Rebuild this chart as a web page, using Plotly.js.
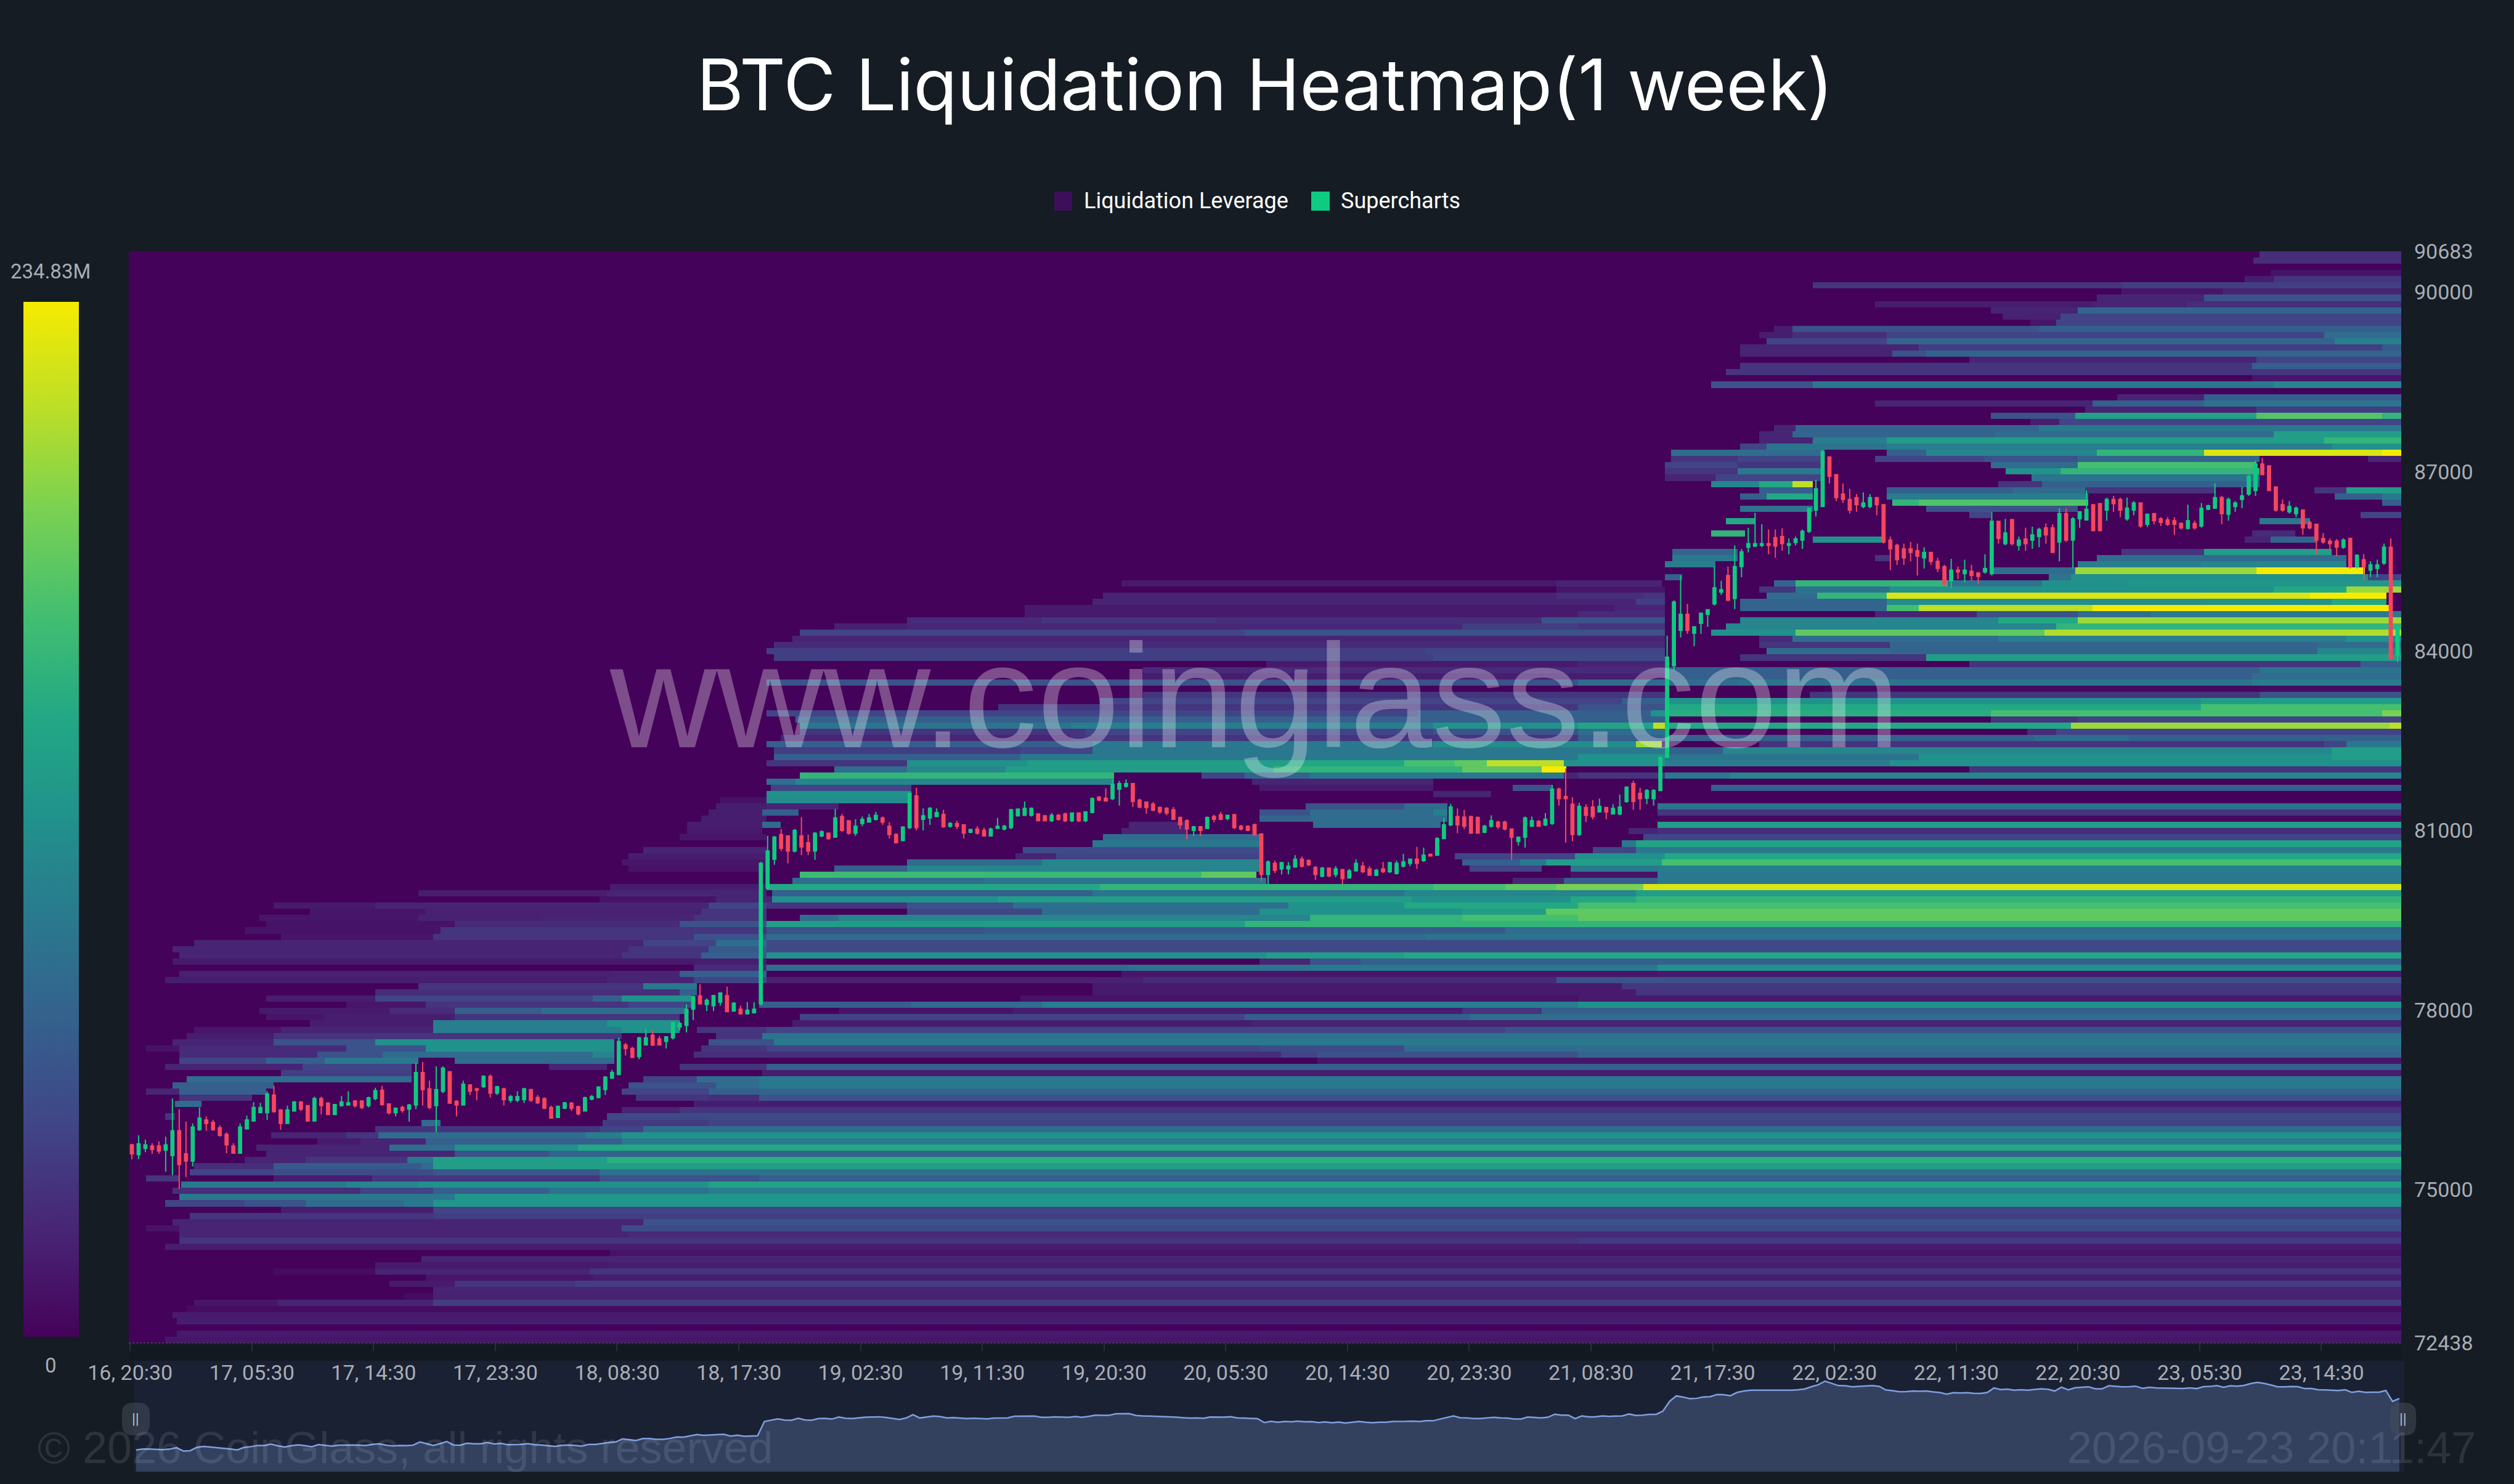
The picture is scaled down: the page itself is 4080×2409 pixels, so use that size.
<!DOCTYPE html>
<html><head><meta charset="utf-8">
<script src="https://cdn.plot.ly/plotly-3.0.1.min.js"></script>
<style>html,body{margin:0;padding:0;background:#151c23}#c{width:4080px;height:2409px}</style>
</head><body><div id="c"></div>
<script>
const priceTop = 90683, priceBottom = 72438, maxLiquidationM = 234.83;
const yTickValues = [90683,90000,87000,84000,81000,78000,75000,72438];
const xTickLabels = ["16, 20:30","17, 05:30","17, 14:30","17, 23:30","18, 08:30","18, 17:30","19, 02:30","19, 11:30","19, 20:30","20, 05:30","20, 14:30","20, 23:30","21, 08:30","21, 17:30","22, 02:30","22, 11:30","22, 20:30","23, 05:30","23, 14:30"];
const title = "BTC Liquidation Heatmap(1 week)";
const slotsPerHour = 1568/168;

// each price row, top to bottom: [time slot, strength 0-10, time slot, strength, ...]
const liquidationRows = [
[1470,1.3],[1466,1.3],[],[1478,.5],[1460,.8,1480,1.5],[1162,1.5,1375,1.8],[1375,.6,1445,1],[1358,1,1432,2.5],[1205,.8,1355,1,1420,1.3],[1285,1,1345,3.2],
[1293,.9,1333,2],[1312,.6,1330,2],[1135,.8,1148,2.5,1318,3],[1125,.8,1148,1.3,1213,2,1515,3.5],[1130,2,1213,3.2,1522,4.2],[1112,1,1235,1.8,1555,2.8],[1112,1,1217,2.5,1240,3.2],[1270,1,1468,2],[1112,1.5,1465,3],[1102,1.5,1465,1.5],
[1465,.6],[1092,2.5,1162,4,1480,4.5],[],[1372,1,1432,3],[1205,1,1355,3,1432,3.8],[1350,1,1468,1.8],[1285,2.5,1343,5.7,1468,7.3,1555,6.5],[1312,.8,1332,2],[1135,1,1150,3.2,1318,4],[1125,1,1148,3.2,1288,3.5,1480,5.5],
[1125,1,1162,4.2,1213,5.5,1515,6.5],[1112,2,1130,3.8,1213,4.2,1520,5],[1064,3.5,1170,0,1213,3,1240,4.5,1358,6.5,1432,9.5,1555,10],[1064,1.5,1110,2,1170,0,1205,2,1280,2.5,1345,3.2,1470,0,1545,1],[1060,2,1110,1.5,1170,0,1285,3.5,1345,7,1468,0],[1060,1.5,1110,4,1170,0,1295,5,1333,6.5,1470,0],[1060,1,1095,2,1170,0,1313,3.8,1470,0],[1092,4.5,1125,6,1148,9,1162,0,1290,1.5,1320,3,1470,0],[1125,3,1162,0,1213,3,1300,3.5,1350,1.5,1440,0,1508,1.5,1530,5.5],[1112,3,1130,6,1162,0,1213,4.2,1352,0,1522,3,1555,4],
[1217,6.5,1235,7.2,1352,0,1555,3],[1112,3.8,1162,0,1240,2.5,1345,0],[1270,2,1285,0,1540,2],[1102,6,1122,0,1470,4,1505,0],[],[1092,6.5,1115,0,1465,1.2,1495,0],[1162,5,1212,0,1460,1,1478,3.2,1510,0],[],[1065,3.2,1110,0,1375,1.5,1432,5.5,1520,0],[1065,4,1110,0,1205,1.5,1215,0,1358,3.5,1530,0],
[1060,4.2,1095,0,1345,4.2,1430,4.5,1530,0],[1285,3.5,1343,8.5,1468,10,1543,0],[1060,3,1072,0,1325,3.8,1340,5,1545,2],[685,.7,985,1,1058,0,1135,3.2,1150,6.5,1255,3.8,1320,5,1380,5.2],[985,.6,1060,0,1125,1.5,1150,3.8,1215,5,1480,6,1530,8.5],[672,1,985,1.3,1045,1.5,1060,0,1130,3.5,1165,6.5,1213,9.5,1505,10,1558,0],[665,1,1040,1.8,1060,0,1112,3.2,1213,4.8,1430,5,1520,6,1558,0],[618,.7,1025,1,1060,0,1112,3.2,1213,7,1235,9,1355,10,1560,0],[618,.7,1000,1.2,1060,0,1205,1,1275,2.5,1345,3.5,1395,4],[537,1.2,630,1.5,750,1.3,975,2.5,1060,0,1112,4.5,1290,6,1345,8.5],
[487,.9,537,1.1,920,1.8,1000,1.5,1060,0,1102,4.5,1330,6.5],[463,2,770,2.5,1060,0,1092,5,1150,7.5,1322,8.8],[458,1,1060,0,1125,1.2,1148,3.5,1290,4.2,1530,5],[445,1.2,1060,0,1125,1.5,1215,3.2,1510,3.5],[440,1.8,895,2,1060,0,1130,3.5,1215,3.2,1510,4.5],[445,1.8,900,2.2,1060,0,1112,1.5,1240,5.5],[785,.7,1000,1,1060,0,1270,1.5,1540,3],[700,1.2,1060,3,1470,3.8],[700,.8,1060,3,1465,3.5],[440,2.5,1000,3.5,1110,3.8,1465,4.2],
[1170,.2,1470,.3],[700,1.5,1060,0,1160,1.5,1470,2.5],[670,2,1030,3,1060,5,1430,5.5],[600,1.5,1000,2.5,1060,6,1430,7],[440,2,890,3,1050,5,1060,6.2,1285,7,1555,8],[460,3,1060,0,1285,1.5,1345,2],[463,3.8,650,4.2,900,5,1000,5.8,1052,9,1060,6,1340,8.5,1560,9],[463,1.5,660,2,900,2.5,1000,3.5,1060,0,1310,1.2,1330,2],[450,1,650,1.5,1000,3,1315,3.5,1380,3],[440,3,665,4,900,4.8,1040,8.5,1058,0,1125,1.5,1515,2,1530,4],
[445,1.8,615,2,665,4,1060,3,1100,4.5,1520,5.5],[445,3,615,4,1000,5,1060,3.8,1235,5,1520,5.5],[440,1.5,537,5,620,5.5,800,6,880,7,915,7.5,937,9,990,5,1060,4.2,1215,5],[487,3.5,537,4.5,605,5.5,790,6.5,920,7.5,975,10,992,0,1270,1.5],[463,6.5,680,0,740,2,770,3.2,815,4,990,1,1000,1.5,1060,4,1105,4.5],[440,3.5,460,4.5,680,0,775,1,900,0],[443,2,540,0,780,.7,900,0,955,2.5,982,0,1092,3],[440,5,540,0,900,1,940,0],[408,.5,440,4.8,540,0],[405,.8,440,1,490,0,812,2.5,880,3.5,910,0,1055,3.8],
[400,.8,437,3,462,0,780,2.5,815,3.5,900,4.3,910,0,1055,1.5],[395,.8,440,0,780,3.2,815,3.5,910,0,1055,.2],[385,.8,437,3.5,450,0,690,1,730,0,817,3.5,905,0,1055,5.5],[385,.7,437,0,685,1,730,0,1035,1,1055,1.3],[380,.6,440,0,672,3.5,780,0,1045,2],[665,4,780,0,1030,4,1040,5.8],[355,1,440,0,617,2.3,780,0,1010,2,1040,4],[345,.8,440,0,612,1,640,2,780,0,915,2,998,5,1060,6],[340,.6,440,0,537,3.5,630,4.5,780,0,920,3,960,4,978,5.5,1058,7],[345,.5,440,0,487,3,537,4.5,780,0,925,2,975,0,995,4,1055,4.2],
[463,6.8,590,6.7,740,7.5,778,0,995,.5,1055,4],[458,3.5,590,3.8,785,0,955,1,990,3,1055,4],[332,.8,440,6,670,6.5,900,7,950,7.5,985,8,1045,9.5],[200,.8,330,1,440,0,444,3,665,3.8,880,4.5,1040,5.5],[325,.5,405,1,444,5,600,5.5,885,5,995,6,1040,6.5],[100,.7,170,1,400,2,440,1.5,537,2.5,610,3.6,800,5,880,6,1000,7],[125,.6,205,.9,395,1.5,440,0,537,2,630,3.5,780,5,920,5.5,978,7.5],[90,.6,200,.9,285,1,390,1.5,440,0,463,3.5,490,4.5,815,6.5,920,7,1000,7.5],[95,.5,225,1.2,380,2.5,440,5.5,770,6.5],[80,.5,215,1.5,440,2.5,590,2.8,950,3.5],
[105,.6,210,1.5,390,2.5,440,3.5,895,3.8],[45,1,355,2,405,3.5,440,2.2],[30,1,345,1.5,400,2.8,440,2.2],[35,1,340,1.5,395,3,440,5,785,5.5,880,6],[30,.7,390,.8,440,0,780,1,815,2.5,850,3],[390,1.2,440,3.5,690,3.8,815,4,1055,5],[35,.9,335,1,380,3,440,0,685,.6,1055,.7],[25,.8,330,1,390,2,440,.9,700,1.2,985,2.5],[200,1.5,355,4,392,0,665,.7,1030,1.6],[170,1.3,380,3,392,0,665,.7,1040,1.5],
[95,.8,170,2,320,3,340,5,388,0,615,.5,1000,.7],[150,.6,205,1.5,345,2,390,0,435,3,540,3.5,630,4.2,1000,5],[90,.7,180,1.2,225,3,285,3.5,385,0,490,.5,610,.8,920,1.5,975,3],[95,.6,135,.8,225,1.5,380,0,463,2,770,3,925,3.5],[125,.8,210,4.2,330,5,380,0,458,.8,775,1],[45,.6,105,1,210,4.2,340,5,380,0,392,1.5,440,2,950,2.5],[40,.8,100,1.5,205,1.5,340,0,405,1.5,437,3.8],[30,1,100,2.5,170,5,335,0,400,2.5,445,4],[12,.5,35,1.2,150,2.5,205,5,335,0,395,1.5,440,2,780,2.3,880,3.5],[35,1.2,130,2.5,175,3.5,320,4.5,335,0,390,1.3,795,2,820,2.5,1000,3.2],
[35,2,95,3,135,4,200,0,225,3.5,335,0,820,.6],[25,1,120,2,195,0,290,1,330,0,380,1.5,440,3],[105,1.8,195,0,437,.8],[40,3.5,195,0,355,2,392,3.5,435,4],[30,3,100,0,345,2.5,405,3.5,435,4],[12,1,35,3,95,0,340,2,400,3,435,3.2],[35,1.5,85,0,350,1.5,400,1.3,435,2.5],[32,3.5,50,0,390,.8],[340,1,380,1.5],[25,1.5,32,0,330,2.2],
[202,3.5,215,0,327,1.7,400,2],[170,1.5,325,2,355,3.5],[98,1,150,1.5,172,3.5,315,4.2,340,5],[130,.7,160,1,205,3,340,4],[88,1,180,3.5,225,5,310,6],[95,1,225,2.5,290,3.2],[80,1,122,1.5,192,4,210,5.5,330,6.3],[45,1.3,100,2.8,202,3.5,210,5.5],[42,2,100,2.3,210,2.7,325,3.7],[12,1.5,35,0,100,.8,168,1.5,325,2.5,435,3],
[36,4,150,4.5,200,5,400,5.8],[30,1.3,160,2,210,3,290,3.8,400,4.2],[35,4,225,5.2],[25,2,80,2.5,122,3.5,190,4,210,5.2],[105,.8,210,2],[42,1.5,210,1.8],[30,1,355,2.5],[12,.5,35,1,340,2.3],[35,1,345,1.2],[35,1.5,1000,1.7],
[25,.8],[332,.5],[202,1],[170,.7,330,.8],[100,.3,170,1,318,1.5],[205,.6,320,.8],[180,.7,225,1.5,308,1.8],[210,1],[190,.3,210,.9],[45,.6,103,1,210,1.8],
[40,.3],[30,.7],[33,.8],[],[33,.7],[25,.6]
];

// half-hour candles [open, high, low, close]
const candlesFirstPart = [
[75747,75765,75509,75598],[75586,75909,75509,75765],[75688,75837,75628,75747],[75730,75777,75598,75670],[75730,75807,75598,75646],[75658,75885,75300,75747],[75568,76524,75240,75986],[75986,76345,75013,75419],[75598,76136,75210,75479],[75479,76106,75389,76046],
[76004,76374,75986,76195],[76165,76225,75986,76106],[76124,76165,75986,76004],[76034,76076,75885,75909],[75927,75956,75610,75747],[75730,75777,75598,75610],[75610,76106,75598,76046],[76016,76237,76016,76165],[76147,76464,76136,76374],[76285,76452,76285,76374],
[76285,76643,76165,76601],[76583,76733,76285,76303],[76333,76345,76000,76106],[76106,76404,76106,76333],[76315,76482,76303,76464],[76464,76482,76315,76345],[76404,76404,76136,76147],[76147,76553,76136,76524],[76524,76553,76255,76404],[76446,76464,76255,76255],
[76255,76434,76255,76422],[76404,76565,76386,76464],[76416,76643,76404,76452],[76482,76494,76374,76404],[76482,76494,76345,76374],[76404,76553,76374,76535],[76524,76703,76494,76655],[76661,76733,76404,76422],[76434,76434,76255,76285],[76285,76374,76225,76362],
[76374,76404,76285,76326],[76345,76434,76136,76416],[76416,77121,76345,76959],[76959,77133,76404,76673],[76685,76822,76345,76374],[76404,77061,75956,76673],[76643,77061,76613,77031],[76971,76971,76434,76446],[76476,76494,76225,76416],[76416,76822,76404,76763],
[76750,76763,76583,76643],[76685,76703,76494,76661],[76720,76912,76703,76894],[76894,76924,76541,76613],[76613,76733,76583,76720],[76685,76703,76404,76506],[76494,76583,76452,76553],[76494,76643,76464,76553],[76506,76703,76446,76685],[76673,76685,76464,76494],
[76541,76583,76434,76452],[76524,76541,76345,76362],[76374,76404,76195,76195],[76207,76404,76195,76392],[76362,76464,76345,76452],[76446,76464,76315,76362],[76386,76404,76237,76267],[76315,76553,76303,76535],[76512,76583,76494,76553],[76541,76720,76524,76715],
[76673,76900,76583,76882],[76864,77001,76852,76959],[76924,77538,76912,77479],[77419,77449,77240,77359],[77359,77389,77198,77210],[77222,77556,77180,77538],[77419,77688,77419,77538],[77580,77658,77401,77419],[77520,77568,77419,77419],[77479,77556,77359,77556],
[77538,77807,77508,77795],[77717,77807,77658,77777],[77747,78094,77628,78016],[78016,78243,77837,78225],[78237,78434,78094,78106],[78094,78195,77986,78165],[78076,78255,77986,78243],[78135,78285,78076,78285],[78243,78392,77974,77974],[77986,78135,77974,78117],
[78016,78076,77926,77938],[77938,78135,77926,77998],[77956,78135,77956,78016]
];
const candlesSecondPart = [
[78107,80476,78084,80453],[80039,80913,80016,80660],[80522,80913,80430,80890],[80936,81028,80660,80706],[80913,80913,80453,80660],[80660,81028,80637,81005],[80913,81226,80591,80729],[80798,80936,80591,80660],[80660,80973,80513,80959],[80913,81005,80890,80982],
[80959,80959,80844,80867],[80890,81364,80890,81212],[81235,81281,80982,81005],[81166,81175,80936,80959],[80959,81189,80913,81074],[81120,81235,81074,81189],[81143,81281,81143,81212],[81189,81313,81166,81258],[81212,81235,81097,81143],[81074,81143,80867,80936],
[80936,80959,80798,80798],[80835,81074,80821,81060],[81051,81626,81028,81626],[81580,81718,81005,81051],[81189,81373,81005,81249],[81212,81396,81097,81373],[81235,81373,81235,81304],[81272,81350,81051,81065],[81074,81143,81051,81120],[81120,81166,81028,81074],
[81097,81097,80867,80959],[80973,81028,80959,81019],[81028,81074,80936,80959],[81005,81051,80913,80913],[80913,81051,80913,81028],[81037,81212,81028,81074],[81028,81097,81005,81074],[81051,81364,81028,81350],[81249,81373,81235,81359],[81258,81488,81258,81373],
[81258,81387,81235,81373],[81281,81295,81166,81166],[81249,81258,81166,81166],[81166,81295,81143,81258],[81258,81281,81166,81189],[81281,81304,81143,81166],[81166,81295,81143,81295],[81295,81295,81143,81166],[81166,81327,81143,81313],[81304,81557,81295,81534],
[81557,81580,81497,81511],[81543,81709,81497,81497],[81534,81856,81511,81773],[81695,81833,81419,81787],[81741,81856,81718,81787],[81787,81787,81396,81488],[81511,81534,81373,81396],[81479,81488,81281,81387],[81442,81479,81327,81341],[81387,81405,81281,81313],
[81373,81396,81258,81295],[81350,81396,81180,81189],[81221,81235,81028,81097],[81166,81189,80853,81028],[81005,81074,80913,81065],[81065,81065,80913,81005],[81037,81235,81028,81221],[81235,81267,81143,81189],[81267,81313,81175,81189],[81203,81267,81175,81258],
[81267,81281,81028,81051],[81074,81097,81005,81028],[81074,81088,80991,81005],[81097,81120,80913,80936],[80945,80945,80154,80269],[80269,80499,80085,80476],[80453,80499,80292,80338],[80361,80476,80269,80467],[80361,80476,80269,80407],[80393,80591,80384,80522],
[80522,80568,80384,80407],[80499,80522,80407,80430],[80384,80407,80177,80269],[80237,80393,80223,80375],[80375,80384,80223,80246],[80269,80407,80223,80361],[80347,80361,80108,80200],[80209,80361,80200,80329],[80329,80522,80315,80453],[80407,80476,80292,80315],
[80361,80407,80246,80255],[80255,80361,80237,80338],[80361,80476,80292,80315],[80315,80476,80292,80467],[80283,80499,80269,80453],[80407,80614,80384,80476],[80453,80531,80407,80522],[80522,80729,80361,80453],[80499,80715,80476,80591],[80605,80614,80568,80577],
[80591,80890,80591,80867],[80867,81212,80867,81097],[81097,81451,81074,81396],[81235,81373,80959,81097],[81226,81350,81028,81074],[81235,81249,80959,80959],[81221,81235,80959,80959],[80973,81097,80959,81074],[81074,81258,81051,81166],[81143,81166,81028,81065],
[81143,81166,81005,81028],[81028,81028,80513,80890],[80821,80899,80752,80890],[80890,81235,80715,81212],[81074,81235,81074,81166],[81157,81175,81074,81074],[81097,81295,81074,81189],[81120,81764,81097,81695],[81695,81718,81419,81534],[81570,82040,80798,81534],
[81442,81557,80821,80936],[80936,81465,80913,81405],[81387,81442,81143,81258],[81396,81511,81189,81235],[81313,81534,81304,81405],[81387,81396,81189,81313],[81281,81442,81281,81373],[81281,81603,81258,81396],[81488,81741,81465,81727],[81787,81833,81350,81488],
[81626,81718,81350,81534],[81543,81695,81442,81672],[81534,81695,81419,81672],[81672,82224,81672,82224]
];
const candlesThirdPart = [
[82224,84260,82220,83900],[83757,84851,83669,84822],[84349,85265,84230,84615],[84615,84792,84290,84349],[84302,84408,84083,84408],[84467,84645,84290,84633],[84615,84704,84408,84692],[84792,85413,84763,85058],[84987,85177,84940,85029],[85265,85413,84851,84851],
[84881,85768,84704,85413],[85413,85709,85236,85661],[85738,86063,85650,85797],[85756,86312,85738,85797],[85768,86123,85738,85797],[85797,86034,85620,85768],[85898,86034,85561,85756],[85916,86052,85679,85797],[85768,85886,85620,85797],[85815,85916,85768,85874],
[85857,86034,85709,86004],[86004,86389,85975,86389],[86359,86862,86253,86714],[86418,87364,86418,87335],[87246,87246,86803,86921],[86950,86950,86507,86566],[86625,86803,86477,86536],[86536,86714,86300,86359],[86566,86625,86330,86448],[86418,86655,86389,86477],
[86418,86625,86389,86566],[86566,86566,86270,86448],[86448,86448,85797,85827],[85857,85916,85354,85709],[85768,85797,85443,85531],[85709,85797,85443,85561],[85709,85827,85502,85650],[85679,85797,85265,85590],[85561,85738,85384,85650],[85650,85650,85443,85502],
[85502,85561,85325,85384],[85413,85443,85088,85118],[85177,85543,85058,85354],[85354,85413,85206,85325],[85295,85531,85147,85354],[85336,85443,85177,85265],[85307,85325,85118,85248],[85325,85620,85295,85384],[85295,86330,85265,86170],[86170,86182,85797,85886],
[85797,86211,85768,85975],[86200,86211,85768,85797],[85768,85916,85679,85857],[85874,86063,85679,85797],[85857,86081,85709,85945],[85916,86063,85738,86034],[86063,86135,85797,85945],[86063,86123,85650,85650],[85827,86389,85502,86300],[86300,86389,85827,85857],
[85857,86241,85384,86211],[86211,86330,86063,86330],[86194,86685,86182,86371],[86448,86448,86004,86016],[86466,86477,86004,86016],[86359,86566,86182,86536],[86536,86595,86330,86466],[86536,86566,86241,86359],[86211,86566,86182,86389],[86359,86507,86270,86477],
[86477,86477,86063,86093],[86123,86300,86075,86288],[86300,86300,86123,86182],[86211,86241,86093,86152],[86194,86241,86093,86123],[86182,86241,85945,86123],[86135,86152,86034,86063],[86052,86448,86034,86182],[86135,86182,86034,86063],[86093,86477,86063,86389],
[86371,86448,86359,86430],[86389,86803,86389,86566],[86566,86595,86123,86300],[86288,86566,86182,86536],[86418,86507,86330,86477],[86536,86744,86389,86595],[86625,86951,86595,86921],[86685,87187,86595,87128],[87128,87228,86951,86951],[87098,87098,86685,86685],
[86744,86744,86330,86359],[86448,86536,86330,86359],[86330,86507,86300,86418],[86300,86418,86241,86389],[86359,86371,85945,86063],[86152,86182,86034,86063],[86123,86123,85620,85857],[85886,85975,85797,85827],[85838,85886,85679,85797],[85838,85874,85590,85738],
[85738,85886,85709,85857],[85886,85898,85384,85413],[85413,85620,85384,85602],[85531,85620,85177,85413],[85354,85502,85236,85443],[85384,85531,85236,85443],[85472,85797,85443,85738],[85738,85886,83876,83876],[83935,84408,83817,84378]
];

const W = 4080, H = 2409;
const fx = x => x / W, fy = y => 1 - y / H;
const candles = candlesFirstPart.concat(candlesSecondPart, candlesThirdPart);
const candleHours = candles.map((_, i) => 0.128 + i * 0.5);
const slotCount = 1568, rowStep = (priceTop - priceBottom) / liquidationRows.length;
const heatY = liquidationRows.map((_, i) => priceTop - (i + 0.5) * rowStep);
const heatX = Array.from({length: slotCount}, (_, s) => (s + 0.5) / slotsPerHour - 0.1);
const heatZ = liquidationRows.map(row => {
  const out = new Array(slotCount).fill(0);
  for (let k = 0; k < row.length; k += 2) {
    for (let s = Math.floor(row[k]); s < slotCount; s++) out[s] = row[k + 1] * maxLiquidationM / 10;
  }
  return out;
});
const scale = [[0,'#45025a'],[.1,'#482475'],[.2,'#414487'],[.3,'#355f8d'],[.4,'#2a788e'],[.5,'#21918c'],[.6,'#22a884'],[.7,'#44bf70'],[.8,'#7ad151'],[.9,'#bddf26'],[1,'#f6eb00']];
const tickFont = {family:'Roboto, sans-serif', size:34, color:'#a9adb5'};

function roundRect(x0,y0,x1,y1,r){
  const X=fx, Y=fy;
  return `M ${X(x0+r)} ${Y(y0)} L ${X(x1-r)} ${Y(y0)} Q ${X(x1)} ${Y(y0)} ${X(x1)} ${Y(y0+r)} L ${X(x1)} ${Y(y1-r)} Q ${X(x1)} ${Y(y1)} ${X(x1-r)} ${Y(y1)} L ${X(x0+r)} ${Y(y1)} Q ${X(x0)} ${Y(y1)} ${X(x0)} ${Y(y1-r)} L ${X(x0)} ${Y(y0+r)} Q ${X(x0)} ${Y(y0)} ${X(x0+r)} ${Y(y0)} Z`;
}
const rect = (x0,y0,x1,y1,color,layer) => ({type:'rect',xref:'paper',yref:'paper',x0:fx(x0),x1:fx(x1),y0:fy(y1),y1:fy(y0),fillcolor:color,line:{width:0},layer:layer||'below'});
const handle = (x0,x1) => ({type:'path',xref:'paper',yref:'paper',path:roundRect(x0,2277,x1,2330,18),fillcolor:'rgba(70,76,88,0.55)',line:{width:0},layer:'above'});
const note = (text,x,y,size,color,family,anchor) => ({text,xref:'paper',yref:'paper',x:fx(x),y:fy(y),xanchor:anchor||'center',yanchor:'middle',showarrow:false,font:{family:family||'Roboto, sans-serif',size,color}});

const traces = [
 {type:'heatmap',x:heatX,y:heatY,z:heatZ,zmin:0,zmax:maxLiquidationM,colorscale:scale,zsmooth:false,hoverinfo:'skip',
  colorbar:{thickness:90,thicknessmode:'pixels',len:1680,lenmode:'pixels',xref:'container',yref:'container',x:38/W,xanchor:'left',y:(H-2170)/H,yanchor:'bottom',xpad:0,ypad:0,outlinewidth:0,showticklabels:false,ticks:''}},
 {type:'candlestick',x:candleHours,open:candles.map(c=>c[0]),high:candles.map(c=>c[1]),low:candles.map(c=>c[2]),close:candles.map(c=>c[3]),
  increasing:{line:{color:'#0ecb81',width:2},fillcolor:'#0ecb81'},decreasing:{line:{color:'#f6465d',width:2},fillcolor:'#f6465d'},whiskerwidth:0,hoverinfo:'skip',showlegend:false},
 {type:'scatter',mode:'lines',x:candleHours,y:candles.map(c=>c[3]),xaxis:'x2',yaxis:'y2',line:{color:'#7f9fe0',width:2.5},fill:'tozeroy',fillcolor:'#33415f',hoverinfo:'skip',showlegend:false}
];
const layout = {
 width:W,height:H,paper_bgcolor:'#151c23',plot_bgcolor:'#45025a',showlegend:false,margin:{l:0,r:0,t:0,b:0,pad:0,autoexpand:false},
 boxgap:0.38,
 title:{text:title,x:fx(2053),xanchor:'center',y:fy(138),yanchor:'middle',automargin:false,font:{family:'Inter, Roboto, sans-serif',size:116,color:'#ffffff'}},
 xaxis:{domain:[fx(209),fx(3897)],range:[-0.1,167.9],tickmode:'array',tickvals:xTickLabels.map((_,i)=>i*9),ticktext:xTickLabels,ticks:'outside',ticklen:12,tickwidth:2,tickcolor:'#2a3038',tickfont:tickFont,showgrid:false,zeroline:false,showline:false,rangeslider:{visible:false},ticklabelstandoff:6,anchor:'y',automargin:false},
 yaxis:{domain:[fy(2180),fy(408)],range:[priceBottom,priceTop],side:'right',tickmode:'array',tickvals:yTickValues,ticktext:yTickValues.map(String),tickfont:tickFont,ticks:'',showgrid:false,zeroline:false,showline:false,anchor:'x',ticklabelstandoff:20,automargin:false},
 yaxis3:{overlaying:'y',side:'left',anchor:'x',range:[priceBottom,priceTop],tick0:72500,dtick:500,ticks:'outside',ticklen:14,tickwidth:2,tickcolor:'#242a32',showticklabels:false,showgrid:false,zeroline:false},
 xaxis2:{domain:[fx(218),fx(3902)],range:[0,168],visible:false,anchor:'y2',fixedrange:true},
 yaxis2:{domain:[fy(2389),fy(2209)],range:[71900,90800],visible:false,anchor:'x2',fixedrange:true},
 shapes:[
  rect(209,2184,3897,2209,'#131920'),
  rect(218,2209,3902,2389,'#1a2133'),
  {type:'line',xref:'paper',yref:'paper',x0:fx(209),x1:fx(3897),y0:fy(2180),y1:fy(2180),line:{color:'#3a3f4c',width:2,dash:'3px,3px'},layer:'above'},
  rect(1711,311,1740,342,'#3d0f5a','above'),
  rect(2128,311,2158,342,'#0ecb81','above'),
  handle(198,243),handle(3879,3921)
 ],
 annotations:[
  note('Liquidation Leverage',1757,326,36,'#ffffff','Roboto, sans-serif','left'),
  note('Supercharts',2174,326,36,'#ffffff','Roboto, sans-serif','left'),
  note('234.83M',82,440,33,'#a9adb5'),
  note('0',82,2216,33,'#a9adb5'),
  note('www.coinglass.com',2036,1130,240,'rgba(255,255,255,0.3)','Liberation Sans, Arial, sans-serif'),
  note('© 2026 CoinGlass, all rights reserved',658,2350,72,'rgba(255,255,255,0.10)','Liberation Sans, Arial, sans-serif'),
  note('2026-09-23 20:11:47',3686,2350,72,'rgba(255,255,255,0.10)','Liberation Sans, Arial, sans-serif'),
  note('||',220,2303,24,'#b9bdc4'),
  note('||',3900,2303,24,'#b9bdc4')
 ]
};
Plotly.newPlot('c',traces,layout,{displayModeBar:false,staticPlot:true});
</script></body></html>
